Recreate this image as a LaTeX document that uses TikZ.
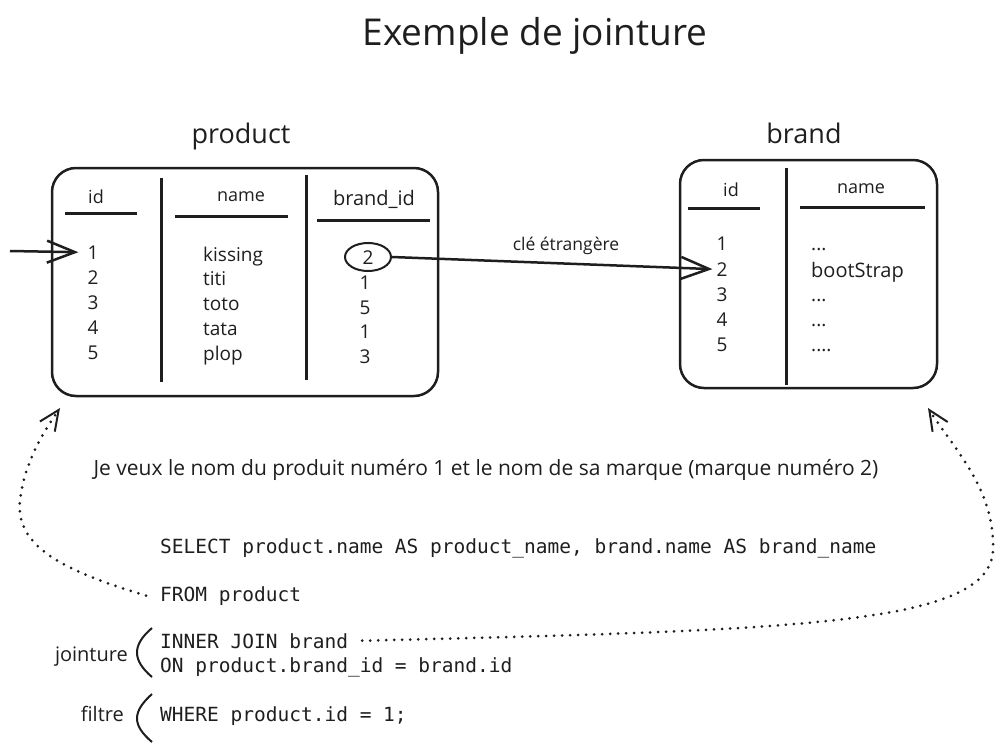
\documentclass[tikz,border=0pt]{standalone}
\usepackage{fontspec}
\setmainfont{Open Sans}
\setmonofont{DejaVu Sans Mono}
\usetikzlibrary{arrows.meta,shapes.geometric}
\definecolor{ink}{HTML}{1E1E1E}
\newcommand{\us}{{\char"5F}}
\tikzset{
  >=latex,
  tablebox/.style = {draw=ink, line width=2.5pt, rounded corners=24pt, inner sep=0},
  colline/.style = {draw=ink, line width=3pt},
  headline/.style = {draw=ink, line width=3pt},
  cell/.style = {anchor=base, inner sep=0, text=ink, font=\fontsize{19}{22}\selectfont},
  namecell/.style = {cell, anchor=base west},
  header/.style = {cell, font=\fontsize{18}{22}\selectfont},
  sql/.style = {anchor=base west, inner sep=0, text=ink,
                font=\ttfamily\fontsize{19.5}{23}\selectfont},
  note/.style = {anchor=base, inner sep=0, text=ink, font=\fontsize{17.5}{21}\selectfont},
  link/.style = {draw=ink, line width=2.5pt,
                 -{Straight Barb[length=28pt,width=22pt]}},
  lookup/.style = {draw=ink, line width=3pt, line cap=round,
                   dash pattern=on 0pt off 8pt,
                   -{Straight Barb[length=20pt,width=18pt,line width=2pt]}},
  fkmark/.style = {ellipse, draw=ink, line width=2pt, minimum width=46pt,
                   minimum height=28pt, inner sep=0},
}
\begin{document}
\begin{tikzpicture}[x=1pt,y=-1pt]
\useasboundingbox (0,0) rectangle (1003,749);
\node[anchor=base, text=ink, font=\fontsize{37}{44}\selectfont] (title) at (535,46) {Exemple de jointure};

% the two tables
\node[anchor=base, text=ink, font=\fontsize{27}{32}\selectfont] (prodlabel) at (241,143) {product};
\node[anchor=base, text=ink, font=\fontsize{27}{32}\selectfont] (brandlabel) at (804,143) {brand};
\node[tablebox, minimum width=386pt, minimum height=228pt] (prodtab) at (245,282) {};
\node[tablebox, minimum width=257pt, minimum height=228pt] (brandtab) at (808.5,274) {};
\draw[colline] (161,178) -- (161,382) (306,175) -- (306,380) (786,168) -- (786,385);
\draw[headline] (65,213) -- (137,213) (175,216) -- (288,216) (317,220) -- (430,220)
                (688,208) -- (760,208) (800,207) -- (925,207);

\node[header] (hpid) at (96,203) {id};
\node[header] (hpname) at (241,201) {name};
\node[header, font=\fontsize{20}{24}\selectfont] (hpbid) at (374,205) {brand\us id};
\node[header] (hbid) at (731,196) {id};
\node[header] (hbname) at (861,193) {name};

% product rows
\foreach \v/\y [count=\i] in {1/259,2/284,3/309,4/334,5/359}
  \node[cell] (pid\i) at (93,\y) {\v};
\foreach \v/\y [count=\i] in {kissing/261,titi/285,toto/310,tata/335,plop/360}
  \node[namecell] (pname\i) at (203,\y) {\v};
\node[cell] (pbid1) at (368,264) {2};
\node[fkmark] (fk) at (368,257) {};
\foreach \v/\y [count=\i from 2] in {1/289,5/314,1/338,3/363}
  \node[cell] (pbid\i) at (365,\y) {\v};

% brand rows
\foreach \v/\y in {1/250,2/276,3/301,4/326,5/351}
  \node[cell] (bid\v) at (722,\y) {\v};
\node[namecell] (bname1) at (811,250) {...};
\node[namecell, font=\fontsize{20}{24}\selectfont] (bname2) at (811,277) {bootStrap};
\node[namecell] (bname3) at (811,301) {...};
\node[namecell] (bname4) at (811,326) {...};
\node[namecell] (bname5) at (811,351) {....};

% arrows between the tables
\coordinate (inlet) at (10,251);
\draw[link] (inlet) -- ([xshift=-9pt]pid1.west);
\draw[link] (fk.east) -- ([xshift=-4pt]bid2.west);
\node[note] (fklabel) at (566,250) {clé étrangère};

\node[anchor=base, text=ink, font=\fontsize{21}{25}\selectfont] (question) at (486,475)
  {Je veux le nom du produit numéro 1 et le nom de sa marque (marque numéro 2)};

% query
\node[sql] (sqlselect) at (160,553) {SELECT product.name AS product\us name, brand.name AS brand\us name};
\node[sql] (sqlfrom) at (160,601) {FROM product};
\node[sql] (sqljoin) at (160,648) {INNER JOIN brand};
\node[sql] (sqlon) at (160,672) {ON product.brand\us id = brand.id};
\node[sql] (sqlwhere) at (160,721) {WHERE product.id = 1;};

\node[note, anchor=base east, font=\fontsize{20}{24}\selectfont] (jointure) at (128,661) {jointure};
\node[note, anchor=base east, font=\fontsize{20}{24}\selectfont] (filtre) at (124,721) {filtre};
\draw[ink, line width=2pt] (152,628) .. controls (132,645) and (132,660) .. (152,677);
\draw[ink, line width=2pt] (152,694) .. controls (132,712) and (132,725) .. (152,742);

% dotted links back to the tables
\coordinate (prodfoot) at (60,408);
\coordinate (brandfoot) at (928,408);
\draw[lookup] ([xshift=-14pt]sqlfrom.west) .. controls (60,570) and (15,545) .. (20,500)
  .. controls (25,460) and (45,430) .. (prodfoot);
\draw[lookup] ([xshift=14pt]sqljoin.east) .. controls (800,630) and (990,625) .. (993,550)
  .. controls (995,490) and (955,450) .. (brandfoot);
\end{tikzpicture}
\end{document}
